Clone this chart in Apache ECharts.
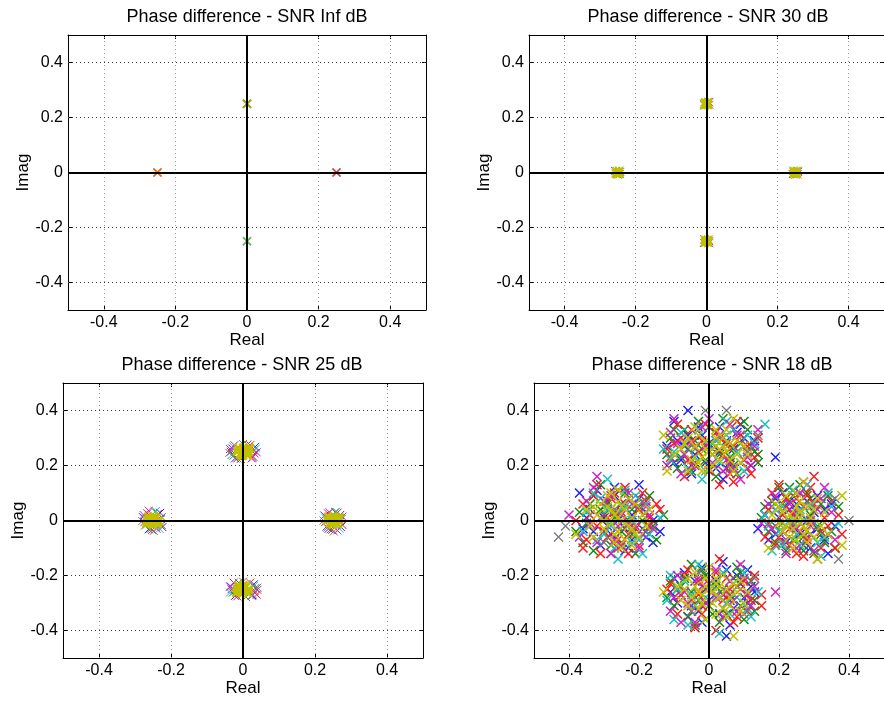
<!DOCTYPE html>
<html><head><meta charset="utf-8">
<script src="https://cdn.jsdelivr.net/npm/echarts@6/dist/echarts.min.js"></script>
<style>html,body{margin:0;padding:0;background:#fff}#c{width:884px;height:702px}</style>
</head><body><div id="c"></div>
<script>
// ---------- text ----------
const titles = ['Phase difference - SNR Inf dB','Phase difference - SNR 30 dB','Phase difference - SNR 25 dB','Phase difference - SNR 18 dB'];
const xName = 'Real';
const yName = 'Imag';
const tickValues = [-0.4,-0.2,0,0.2,0.4];
const gridValues = [-0.4,-0.2,0.2,0.4];
const axisMin = -0.5, axisMax = 0.5;

// ---------- SNR Inf ----------
const infRed = [[-0.25,0],[0.25,0],[0,0.25]];
const infOlive = [[-0.25,0]];
const infYellow = [[0,0.25],[0,-0.25]];
const infGreen = [[0,0.25],[0,-0.25]];
const infCyan = [[0,-0.25]];
const infGray = [[0.25,0]];

// ---------- SNR 30 dB ----------
const s30Blue = [[0.243,-0.006],[0.006,0.257],[-0.257,0.005],[-0.007,-0.256]];
const s30Green = [[0.257,0.006],[-0.006,0.244],[-0.244,-0.006],[0.006,-0.244]];
const s30Red = [[0.256,-0.007],[0.007,0.255],[-0.255,-0.004],[0.007,-0.257],[-0.006,-0.243]];
const s30Cyan = [[0.244,0.007],[-0.007,0.245],[-0.245,0.007],[-0.006,-0.257]];
const s30Magenta = [[0.258,0.002],[0.008,0.246],[-0.243,0.002],[0.008,-0.25]];
const s30Gray = [[0.25,-0.008],[-0.007,0.25],[-0.25,-0.008],[-0.005,-0.245]];
const s30Olive = [[0.25,0],[0.246,0.004],[0.254,-0.004],[0.254,0.004],[0.246,-0.004],
  [0,0.25],[-0.004,0.254],[0.004,0.246],[0.004,0.254],[-0.004,0.246],
  [-0.25,0],[-0.254,0.004],[-0.246,-0.004],[-0.246,0.004],[-0.254,-0.004],
  [0,-0.25],[-0.004,-0.246],[0.004,-0.254],[0.004,-0.246],[-0.004,-0.254]];

// ---------- SNR 25 dB ----------
const s25Blue = [[0.226,0.018],[0.272,-0.024],[0.238,-0.030],[0.270,0.020],[-0.030,0.262],[0.028,0.232],[-0.022,0.226],[0.034,0.268],
  [-0.278,0.012],[-0.224,-0.024],[-0.262,-0.032],[-0.230,0.028],[-0.034,-0.240],[0.026,-0.272],[-0.022,-0.274],[0.030,-0.232]];
const s25Green = [[0.232,-0.022],[0.274,0.006],[0.256,0.030],[0.244,-0.032],[0.030,0.255],[-0.026,0.236],[0.012,0.276],[-0.006,0.224],
  [-0.272,-0.018],[-0.226,0.012],[-0.244,0.032],[-0.256,-0.030],[-0.028,-0.262],[0.034,-0.246],[0.008,-0.278],[-0.012,-0.226]];
const s25Red = [[0.262,0.028],[0.228,-0.006],[0.276,-0.016],[0.248,-0.034],[0.236,0.026],[0.032,0.244],[-0.034,0.250],[0.020,0.274],[-0.016,0.226],[0.026,0.228],
  [-0.236,0.024],[-0.274,-0.006],[-0.226,-0.016],[-0.252,-0.034],[-0.266,0.026],[0.032,-0.256],[-0.032,-0.250],[0.020,-0.226],[-0.016,-0.276],[0.038,-0.270]];
const s25Cyan = [[0.268,-0.030],[0.230,0.008],[0.258,0.032],[-0.028,0.270],[0.036,0.262],[-0.032,0.238],
  [-0.232,-0.030],[-0.270,0.008],[-0.242,0.034],[0.028,-0.270],[-0.036,-0.262],[0.030,-0.238]];
const s25Magenta = [[0.276,0.014],[0.240,0.030],[0.234,-0.026],[0.262,-0.036],[0.038,0.248],[-0.024,0.274],[0.024,0.226],[-0.036,0.260],
  [-0.276,0.020],[-0.240,-0.030],[-0.228,0.006],[-0.262,0.036],[0.040,-0.252],[-0.026,-0.226],[0.024,-0.274],[-0.036,-0.240]];
const s25Gray = [[0.252,-0.040],[0.224,0.000],[0.000,0.278],[-0.038,0.246],[-0.280,-0.002],[-0.248,-0.038],[0.000,-0.222],[0.040,-0.244]];
const s25Olive = [[0.250,0.000],[0.240,0.008],[0.260,-0.008],[0.242,-0.009],[0.258,0.010],[0.234,0.001],[0.266,0.002],[0.251,0.014],[0.249,-0.015],[0.237,0.013],[0.263,-0.013],[0.246,0.004],[0.255,-0.003],[0.268,0.011],
  [0.000,0.250],[-0.010,0.258],[0.010,0.242],[-0.008,0.241],[0.008,0.259],[-0.016,0.251],[0.016,0.249],[0.001,0.264],[-0.001,0.236],[-0.013,0.263],[0.013,0.237],[0.004,0.253],[-0.004,0.246],[0.018,0.262],
  [-0.250,0.000],[-0.260,0.008],[-0.240,-0.008],[-0.258,-0.009],[-0.242,0.010],[-0.266,0.001],[-0.234,-0.002],[-0.249,0.014],[-0.251,-0.015],[-0.263,0.013],[-0.237,-0.013],[-0.254,0.004],[-0.245,-0.003],[-0.268,-0.011],
  [0.000,-0.250],[-0.010,-0.242],[0.010,-0.258],[-0.008,-0.259],[0.008,-0.241],[-0.016,-0.249],[0.016,-0.251],[0.001,-0.236],[-0.001,-0.264],[-0.013,-0.237],[0.013,-0.263],[0.004,-0.247],[-0.004,-0.254],[-0.018,-0.262]];

// ---------- SNR 18 dB ----------
const s18Blue = [[0.18,0.05],[0.31,-0.03],[0.22,-0.08],[0.28,0.07],[0.14,-0.03],[0.34,-0.12],[0.25,0.01],[0.19,-0.05],[0.33,0.04],[0.21,0.10],[0.29,-0.10],[0.36,-0.02],[0.16,0.02],[0.26,-0.05],[0.23,0.04],[0.31,0.09],
  [0.24,-0.02],[0.30,0.03],[0.20,0.01],[0.27,-0.09],[0.23,0.07],[0.33,-0.07],[0.17,-0.07],[0.26,0.10],[0.29,-0.05],[0.21,-0.04],[0.35,0.06],[0.19,0.08],[0.28,0.00],[0.25,0.06],
  [-0.06,0.40],[0.19,0.23],[-0.10,0.36],[0.05,0.19],[-0.08,0.22],[0.10,0.30],[-0.02,0.31],[0.07,0.26],[-0.12,0.27],[0.03,0.34],[0.12,0.20],[-0.05,0.17],[0.01,0.24],[0.09,0.35],[-0.09,0.29],[0.04,0.15],
  [0.00,0.28],[-0.04,0.24],[0.06,0.21],[-0.07,0.27],[0.08,0.32],[0.02,0.19],[-0.10,0.21],[0.11,0.25],[-0.03,0.34],[0.05,0.29],[-0.06,0.31],[0.13,0.29],[0.03,0.25],[-0.01,0.21],
  [-0.37,0.10],[-0.20,0.13],[-0.14,-0.04],[-0.30,0.05],[-0.22,-0.07],[-0.33,-0.04],[-0.18,0.03],[-0.27,0.09],[-0.24,-0.11],[-0.35,0.01],[-0.16,-0.08],[-0.29,-0.02],[-0.21,0.06],[-0.32,0.11],[-0.26,0.00],[-0.19,-0.03],
  [-0.25,0.06],[-0.28,-0.05],[-0.22,0.02],[-0.31,-0.09],[-0.18,-0.06],[-0.34,0.04],[-0.23,-0.10],[-0.27,0.12],[-0.20,0.08],[-0.30,0.01],[-0.16,0.00],[-0.36,-0.03],[-0.24,-0.03],[-0.29,0.07],
  [0.06,-0.38],[0.05,-0.42],[-0.07,-0.19],[0.10,-0.28],[-0.03,-0.33],[0.04,-0.15],[-0.11,-0.26],[0.08,-0.20],[0.00,-0.29],[-0.06,-0.35],[0.12,-0.24],[0.02,-0.22],[-0.09,-0.30],[0.07,-0.32],[-0.02,-0.17],[0.11,-0.18],
  [0.01,-0.26],[-0.04,-0.22],[0.06,-0.29],[-0.08,-0.27],[0.09,-0.23],[0.03,-0.34],[-0.05,-0.31],[0.11,-0.30],[-0.10,-0.21],[0.05,-0.18],[-0.02,-0.37],[0.13,-0.26],[-0.01,-0.25],[0.04,-0.27]];
const s18Green = [[0.20,0.12],[0.27,-0.06],[0.17,-0.04],[0.32,0.06],[0.24,0.09],[0.35,-0.04],[0.22,-0.11],[0.29,0.02],[0.18,0.07],[0.30,-0.12],[0.26,0.13],[0.15,0.01],[0.33,-0.08],[0.21,-0.01],[0.37,0.05],[0.28,0.10],
  [0.25,0.03],[0.31,-0.02],[0.19,-0.02],[0.23,0.12],[0.34,0.09],[0.27,-0.11],[0.21,0.06],[0.32,-0.05],[0.16,0.05],[0.29,0.08],[0.24,-0.07],[0.36,-0.10],[0.26,-0.01],[0.19,-0.08],
  [0.04,0.37],[-0.11,0.30],[0.13,0.25],[-0.04,0.21],[0.08,0.17],[-0.07,0.33],[0.01,0.28],[0.11,0.33],[-0.09,0.19],[0.06,0.23],[-0.03,0.36],[0.14,0.21],[-0.12,0.24],[0.02,0.16],[0.09,0.28],[-0.06,0.26],
  [-0.02,0.26],[0.04,0.30],[-0.08,0.23],[0.07,0.20],[0.00,0.34],[0.12,0.27],[-0.05,0.18],[0.10,0.36],[-0.10,0.33],[0.03,0.24],[0.06,0.26],[-0.01,0.22],[0.14,0.24],[-0.04,0.29],
  [-0.15,-0.07],[-0.38,-0.04],[-0.31,0.13],[-0.23,0.08],[-0.28,-0.09],[-0.19,0.00],[-0.34,0.06],[-0.25,-0.04],[-0.17,0.09],[-0.36,-0.08],[-0.21,-0.12],[-0.30,0.02],[-0.26,0.11],[-0.13,0.02],[-0.33,-0.11],[-0.22,0.04],
  [-0.27,0.01],[-0.22,-0.05],[-0.31,0.04],[-0.24,0.10],[-0.18,-0.04],[-0.35,-0.01],[-0.28,-0.12],[-0.20,0.05],[-0.33,0.09],[-0.25,-0.08],[-0.16,-0.02],[-0.29,0.06],[-0.23,0.00],[-0.37,0.03],
  [-0.10,-0.31],[0.12,-0.22],[-0.05,-0.16],[0.03,-0.37],[0.09,-0.31],[-0.08,-0.24],[0.06,-0.27],[-0.01,-0.20],[0.13,-0.29],[-0.12,-0.28],[0.01,-0.34],[0.08,-0.17],[-0.04,-0.38],[0.10,-0.36],[-0.07,-0.21],[0.04,-0.25],
  [0.02,-0.24],[-0.03,-0.29],[0.07,-0.21],[-0.09,-0.25],[0.11,-0.27],[0.00,-0.31],[-0.06,-0.35],[0.05,-0.34],[-0.11,-0.22],[0.09,-0.19],[0.03,-0.28],[-0.02,-0.18],[0.13,-0.33],[-0.05,-0.26]];
const s18Red = [[0.30,0.16],[0.20,0.13],[0.31,-0.14],[0.23,-0.03],[0.36,-0.10],[0.17,0.04],[0.27,0.05],[0.33,0.01],[0.19,-0.09],[0.25,-0.12],[0.29,0.12],[0.22,0.08],[0.35,0.07],[0.16,-0.06],[0.28,-0.07],[0.24,0.02],[0.32,-0.04],[0.38,-0.05],
  [0.26,-0.04],[0.21,0.02],[0.30,0.06],[0.18,0.10],[0.34,-0.02],[0.23,-0.09],[0.28,0.09],[0.20,-0.06],[0.32,-0.10],[0.25,0.08],[0.17,-0.01],[0.37,0.02],[0.27,-0.13],[0.22,0.05],
  [0.03,0.13],[-0.09,0.35],[0.11,0.27],[-0.05,0.29],[0.06,0.20],[-0.11,0.23],[0.14,0.30],[0.00,0.18],[-0.03,0.25],[0.08,0.36],[-0.07,0.16],[0.12,0.17],[0.02,0.32],[-0.10,0.28],[0.05,0.28],[0.10,0.22],[-0.04,0.20],[0.07,0.14],
  [0.01,0.26],[-0.06,0.22],[0.04,0.24],[-0.02,0.29],[0.09,0.31],[-0.08,0.30],[0.13,0.23],[-0.12,0.26],[0.06,0.17],[-0.01,0.35],[0.03,0.30],[0.11,0.19],[-0.05,0.33],[0.07,0.27],
  [-0.31,-0.12],[-0.14,0.04],[-0.36,0.06],[-0.27,0.03],[-0.20,-0.09],[-0.33,0.09],[-0.24,0.12],[-0.17,-0.02],[-0.29,-0.06],[-0.22,0.01],[-0.35,-0.07],[-0.26,-0.10],[-0.18,0.07],[-0.32,-0.02],[-0.15,0.06],[-0.28,0.08],[-0.23,-0.05],[-0.38,0.00],
  [-0.25,0.03],[-0.21,-0.03],[-0.30,-0.04],[-0.27,0.10],[-0.19,0.10],[-0.34,0.02],[-0.23,-0.12],[-0.32,0.13],[-0.17,0.01],[-0.26,-0.07],[-0.36,-0.10],[-0.20,0.04],[-0.29,0.01],[-0.24,0.06],
  [-0.04,-0.39],[0.15,-0.27],[0.15,-0.31],[0.03,-0.14],[-0.08,-0.27],[0.09,-0.25],[-0.02,-0.31],[0.05,-0.21],[-0.11,-0.23],[0.11,-0.33],[0.01,-0.26],[-0.06,-0.18],[0.07,-0.37],[-0.09,-0.34],[0.13,-0.20],[0.04,-0.29],[-0.03,-0.22],[0.02,-0.40],
  [0.00,-0.23],[-0.05,-0.29],[0.06,-0.25],[-0.02,-0.34],[0.10,-0.22],[-0.10,-0.28],[0.04,-0.32],[-0.07,-0.20],[0.12,-0.29],[0.02,-0.19],[-0.03,-0.27],[0.08,-0.35],[-0.12,-0.25],[0.05,-0.28]];
const s18Cyan = [[0.16,0.02],[0.34,0.10],[0.26,-0.09],[0.21,0.05],[0.30,-0.01],[0.18,-0.11],[0.32,-0.13],[0.24,0.11],[0.37,-0.01],[0.20,-0.04],[0.27,0.00],[0.33,-0.06],
  [0.23,0.00],[0.29,0.05],[0.19,0.04],[0.31,-0.08],[0.25,-0.05],[0.35,0.05],[0.21,-0.09],[0.28,0.13],[0.17,-0.02],[0.26,0.04],
  [0.16,0.35],[-0.13,0.26],[0.05,0.31],[-0.06,0.19],[0.10,0.18],[-0.02,0.15],[0.13,0.28],[-0.08,0.32],[0.03,0.21],[-0.10,0.25],[0.07,0.33],[0.00,0.27],
  [0.02,0.29],[-0.04,0.23],[0.08,0.25],[-0.07,0.28],[0.11,0.31],[-0.01,0.18],[0.05,0.36],[-0.11,0.22],[0.09,0.21],[-0.03,0.33],
  [-0.29,0.15],[-0.26,-0.14],[-0.21,0.09],[-0.32,-0.07],[-0.17,-0.05],[-0.35,0.03],[-0.24,0.05],[-0.19,-0.12],[-0.28,-0.02],[-0.14,0.01],[-0.31,0.08],[-0.22,-0.08],
  [-0.26,0.03],[-0.30,-0.05],[-0.22,0.00],[-0.33,0.10],[-0.18,0.06],[-0.27,-0.10],[-0.36,-0.04],[-0.20,-0.07],[-0.24,0.11],[-0.29,0.04],
  [0.12,-0.35],[0.03,-0.41],[-0.10,-0.36],[-0.12,-0.29],[0.07,-0.23],[-0.05,-0.27],[0.10,-0.19],[-0.01,-0.36],[0.05,-0.30],[-0.07,-0.22],[0.14,-0.26],[-0.03,-0.16],
  [0.01,-0.24],[-0.04,-0.31],[0.08,-0.28],[-0.09,-0.25],[0.04,-0.19],[-0.01,-0.28],[0.11,-0.32],[-0.06,-0.38],[0.06,-0.34],[-0.11,-0.20]];
const s18Magenta = [[0.27,0.14],[0.19,0.09],[0.35,0.03],[0.22,-0.07],[0.29,-0.02],[0.15,-0.01],[0.32,0.08],[0.25,-0.10],[0.18,-0.03],[0.36,-0.07],[0.23,0.06],[0.30,-0.11],[0.26,0.03],[0.33,0.12],
  [0.24,0.03],[0.28,-0.06],[0.20,-0.01],[0.31,0.04],[0.26,0.10],[0.17,0.06],[0.34,-0.05],[0.22,-0.12],[0.29,0.00],[0.25,-0.03],
  [0.13,0.27],[-0.10,0.37],[0.08,0.31],[-0.07,0.24],[0.04,0.18],[-0.02,0.34],[0.11,0.23],[-0.12,0.20],[0.01,0.21],[0.06,0.35],[-0.05,0.28],[0.14,0.33],[-0.08,0.17],[0.09,0.15],
  [-0.01,0.27],[0.05,0.22],[-0.05,0.20],[0.03,0.31],[0.10,0.27],[-0.09,0.28],[0.07,0.19],[0.00,0.37],[-0.11,0.32],[0.12,0.20],
  [-0.40,0.02],[-0.32,0.16],[-0.27,-0.07],[-0.18,0.05],[-0.34,-0.01],[-0.23,0.10],[-0.20,-0.10],[-0.30,0.07],[-0.16,-0.03],[-0.37,-0.06],[-0.25,0.02],[-0.28,-0.12],[-0.21,-0.02],[-0.33,0.12],
  [-0.26,-0.02],[-0.22,0.06],[-0.31,0.01],[-0.25,-0.09],[-0.19,-0.05],[-0.35,0.07],[-0.28,0.09],[-0.17,0.02],[-0.32,-0.08],[-0.23,-0.01],
  [0.09,-0.16],[0.19,-0.26],[-0.06,-0.30],[0.04,-0.35],[-0.09,-0.20],[0.11,-0.27],[-0.02,-0.24],[0.07,-0.29],[-0.11,-0.33],[0.02,-0.18],[0.12,-0.31],[-0.04,-0.37],[0.06,-0.22],[-0.07,-0.26],
  [0.02,-0.28],[-0.03,-0.21],[0.08,-0.33],[-0.05,-0.33],[0.10,-0.21],[-0.10,-0.28],[0.05,-0.26],[-0.01,-0.30],[0.13,-0.24],[-0.08,-0.37]];
const s18Gray = [[0.36,0.08],[0.40,0.00],[0.37,-0.14],[0.24,-0.01],[0.29,0.06],[0.21,-0.08],
  [-0.01,0.40],[0.05,0.40],[0.14,0.31],[0.11,0.25],[-0.04,0.26],[0.06,0.19],
  [-0.43,-0.06],[-0.41,-0.02],[-0.27,0.04],[-0.22,-0.04],[-0.30,-0.08],[-0.19,0.07],
  [0.13,-0.21],[0.02,-0.27],[-0.05,-0.33],[0.08,-0.24],[-0.03,-0.19],[0.10,-0.34]];
const s18Olive = [[0.27,0.14],[0.38,0.09],[0.38,-0.09],[0.31,-0.14],[0.17,-0.10],[0.24,0.00],[0.26,0.03],[0.22,-0.02],[0.28,-0.04],[0.25,0.05],[0.21,0.03],[0.29,0.01],[0.23,-0.06],[0.27,-0.02],[0.20,-0.01],[0.30,0.04],[0.24,-0.03],[0.26,0.07],[0.32,-0.02],[0.19,0.06],[0.28,-0.08],[0.22,0.09],[0.33,0.03],[0.25,-0.07],
  [0.26,0.01],[0.23,0.02],[0.27,-0.05],[0.21,-0.04],[0.30,-0.06],[0.25,0.10],[0.18,0.02],[0.31,0.08],[0.24,-0.10],[0.29,-0.01],[0.34,-0.05],[0.20,0.05],[0.26,-0.01],[0.28,0.05],
  [-0.13,0.31],[-0.12,0.18],[0.07,0.37],[0.00,0.25],[0.02,0.27],[-0.02,0.23],[0.03,0.22],[-0.01,0.29],[0.05,0.25],[-0.04,0.27],[0.01,0.20],[0.04,0.30],[-0.03,0.31],[0.06,0.28],[-0.05,0.22],[0.08,0.24],[-0.06,0.30],[0.02,0.33],[0.09,0.21],[-0.08,0.26],[0.07,0.18],[0.03,0.26],[-0.02,0.18],[0.10,0.27],
  [0.01,0.24],[-0.01,0.26],[0.04,0.27],[-0.03,0.21],[0.06,0.22],[-0.07,0.28],[0.02,0.30],[0.08,0.29],[-0.04,0.34],[0.11,0.24],[-0.10,0.24],[0.05,0.33],[0.00,0.19],[-0.06,0.18],
  [-0.38,-0.05],[-0.25,0.00],[-0.27,0.02],[-0.23,-0.02],[-0.26,-0.04],[-0.24,0.04],[-0.28,-0.01],[-0.22,0.01],[-0.29,0.05],[-0.21,-0.05],[-0.30,-0.03],[-0.26,0.07],[-0.24,-0.07],[-0.32,0.02],[-0.19,0.02],[-0.27,-0.08],[-0.23,0.08],[-0.31,0.06],[-0.20,-0.06],[-0.34,-0.02],[-0.28,0.10],[-0.25,-0.10],[-0.17,0.04],[-0.33,0.05],
  [-0.26,0.01],[-0.24,-0.01],[-0.28,0.04],[-0.22,-0.03],[-0.30,0.00],[-0.25,0.05],[-0.21,0.06],[-0.27,-0.05],[-0.33,-0.06],[-0.18,-0.02],[-0.29,0.09],[-0.22,-0.09],[-0.35,0.04],[-0.26,0.11],
  [-0.13,-0.26],[0.07,-0.42],[0.00,-0.25],[0.02,-0.23],[-0.02,-0.27],[0.03,-0.28],[-0.01,-0.21],[0.05,-0.25],[-0.04,-0.24],[0.01,-0.30],[0.04,-0.20],[-0.03,-0.32],[0.06,-0.31],[-0.05,-0.28],[0.08,-0.26],[-0.06,-0.21],[0.02,-0.34],[0.09,-0.22],[-0.08,-0.29],[0.00,-0.17],[0.05,-0.35],[-0.01,-0.36],[0.10,-0.30],[-0.09,-0.24],
  [0.01,-0.26],[-0.01,-0.24],[0.03,-0.24],[-0.03,-0.26],[0.06,-0.28],[-0.06,-0.31],[0.02,-0.21],[0.07,-0.23],[-0.04,-0.19],[0.04,-0.32],[-0.07,-0.25],[0.09,-0.33],[-0.02,-0.30],[0.11,-0.26]];

// ---------- styles ----------
const FONT = '"Liberation Sans", Arial, Helvetica, sans-serif';
const COL = {blue:'#1f1fff', green:'#138a13', red:'#ff1a1a', cyan:'#16c2c2', magenta:'#cc22cc', gray:'#7a7a7a', olive:'#c0c000', yellowgreen:'#9cc010'};
const XSYM = 'path://M0,0L10,10M10,0L0,10';
const layouts = [
  {left:68, top:35, width:358, height:275, tx:247, ty:17, yGap:31},
  {left:529, top:35, width:359, height:275, tx:708, ty:17, yGap:32},
  {left:63, top:383, width:360, height:275, tx:242, ty:365, yGap:34},
  {left:534, top:383, width:358, height:275, tx:712, ty:365, yGap:33}
];
// [data, colour, strokeWidth, opacity, size]
const plotSets = [
  [[infRed,'red',1.6,1,8],[infOlive,'olive',1.6,0.55,8],[infGreen,'green',1.6,0.7,8],[infYellow,'yellowgreen',1.4,0.85,8],[infCyan,'cyan',1.2,0.45,8],[infGray,'gray',1.3,0.35,8]],
  [[s30Blue,'blue',1,1,8],[s30Green,'green',1,1,8],[s30Red,'red',1,1,8],[s30Cyan,'cyan',1,1,8],[s30Magenta,'magenta',1,1,8],[s30Gray,'gray',1,1,8],[s30Olive,'olive',2.6,1,8]],
  [[s25Blue,'blue',1,1,8],[s25Green,'green',1,1,8],[s25Red,'red',1,1,8],[s25Cyan,'cyan',1,1,8],[s25Magenta,'magenta',1,1,8],[s25Gray,'gray',1,1,8],[s25Olive,'olive',2.6,1,8]],
  [[s18Blue,'blue',1.5,1,9],[s18Green,'green',1.5,1,9],[s18Red,'red',1.5,1,9],[s18Cyan,'cyan',1.5,1,9],[s18Magenta,'magenta',1.5,1,9],[s18Gray,'gray',1.3,1,9],[s18Olive,'olive',1.6,1,9]]
];

const grid = [], xAxis = [], yAxis = [], series = [], graphic = [];
const lineCol = '#000';
layouts.forEach((L, i) => {
  grid.push({left:L.left, top:L.top, width:L.width, height:L.height, containLabel:false});
  const tick = {show:true, inside:true, length:4, customValues:tickValues, lineStyle:{color:lineCol, width:1}};
  const aLine = {show:true, onZero:false, lineStyle:{color:lineCol, width:1}};
  xAxis.push({gridIndex:i, type:'value', min:axisMin, max:axisMax, position:'bottom',
    name:xName, nameLocation:'middle', nameGap:22,
    nameTextStyle:{fontSize:17, color:'#000', fontFamily:FONT},
    axisLine:aLine, axisTick:tick,
    axisLabel:{customValues:tickValues, fontSize:16, color:'#000', margin:5, fontFamily:FONT},
    splitLine:{show:false}});
  xAxis.push({gridIndex:i, type:'value', min:axisMin, max:axisMax, position:'top',
    axisLine:aLine, axisTick:tick, axisLabel:{show:false}, splitLine:{show:false}});
  yAxis.push({gridIndex:i, type:'value', min:axisMin, max:axisMax, position:'left',
    name:yName, nameLocation:'middle', nameGap:L.yGap,
    nameTextStyle:{fontSize:17, color:'#000', fontFamily:FONT},
    axisLine:aLine, axisTick:tick,
    axisLabel:{customValues:tickValues, fontSize:16, color:'#000', margin:5, fontFamily:FONT},
    splitLine:{show:false}});
  yAxis.push({gridIndex:i, type:'value', min:axisMin, max:axisMax, position:'right',
    axisLine:aLine, axisTick:tick, axisLabel:{show:false}, splitLine:{show:false}});

  // dotted grid lines
  series.push({type:'scatter', xAxisIndex:2*i, yAxisIndex:2*i, data:[], silent:true, z:1,
    markLine:{silent:true, symbol:['none','none'], label:{show:false}, animation:false,
      data: gridValues.map(v => ({xAxis:v, lineStyle:{color:'#9a9a9a', type:[1,3], width:1}}))
        .concat(gridValues.map(v => ({yAxis:v, lineStyle:{color:'#3a3a3a', type:[1,3], width:1}})))}});

  plotSets[i].forEach(([data, c, w, op, sz]) => {
    series.push({type:'scatter', xAxisIndex:2*i, yAxisIndex:2*i, data:data, z:2,
      symbol:XSYM, symbolSize:sz, symbolKeepAspect:true, silent:true,
      emphasis:{disabled:true},
      itemStyle:{color:'rgba(0,0,0,0)', borderColor:COL[c], borderWidth:w, opacity:op}});
  });

  // zero axes lines
  series.push({type:'scatter', xAxisIndex:2*i, yAxisIndex:2*i, data:[], silent:true, z:5,
    markLine:{silent:true, symbol:['none','none'], label:{show:false}, animation:false,
      lineStyle:{color:'#000', width:2, type:'solid'},
      data:[{xAxis:0},{yAxis:0}]}});

  graphic.push({type:'text', x:L.tx, y:L.ty, silent:true,
    style:{text:titles[i], fill:'#000', font:'18px ' + FONT, textAlign:'center', textVerticalAlign:'middle'}});
});

const chart = echarts.init(document.getElementById('c'), null, {renderer:'canvas'});
chart.setOption({animation:false, backgroundColor:'#fff', grid, xAxis, yAxis, series, graphic});
</script>
</body></html>
